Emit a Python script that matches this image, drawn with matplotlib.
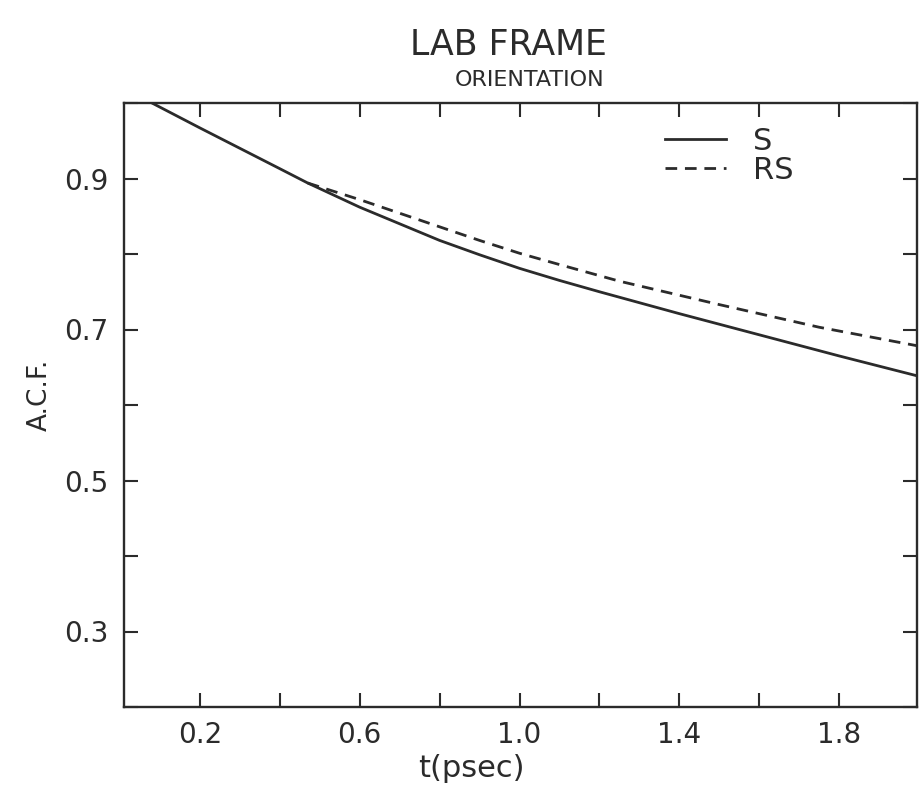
import matplotlib
matplotlib.use("Agg")
import matplotlib.pyplot as plt
from matplotlib.ticker import MultipleLocator

# values
t_s = [0.08, 0.2, 0.3, 0.4, 0.47, 0.6, 0.7, 0.8, 0.9, 1.0, 1.1, 1.2, 1.4, 1.6, 1.8, 2.0]
acf_s = [1.0, 0.967, 0.940, 0.913, 0.894, 0.862, 0.840, 0.818, 0.799, 0.781,
         0.765, 0.750, 0.721, 0.693, 0.665, 0.638]

t_rs = [0.47, 0.6, 0.7, 0.8, 0.9, 1.0, 1.1, 1.25, 1.5, 1.75, 2.0]
acf_rs = [0.894, 0.872, 0.854, 0.836, 0.818, 0.801, 0.786, 0.764, 0.733, 0.703, 0.678]

x_major = [0.2, 0.6, 1.0, 1.4, 1.8]
x_labels = ["0.2", "0.6", "1.0", "1.4", "1.8"]
y_major = [0.3, 0.5, 0.7, 0.9]
y_labels = ["0.3", "0.5", "0.7", "0.9"]

ink = "#2b2b2b"
plt.rcParams["font.family"] = "DejaVu Sans"

fig = plt.figure(figsize=(9.2, 7.85), dpi=100)
ax = fig.add_axes([124/920, 78/785, 793/920, 604/785])

ax.plot(t_s, acf_s, color=ink, lw=2.0, label="S")
ax.plot(t_rs, acf_rs, color=ink, lw=2.0, ls=(0, (4.2, 2.8)), label="RS")

ax.set_xlim(0.01, 1.995)
ax.set_ylim(0.2, 1.0)

ax.set_xticks(x_major)
ax.set_xticklabels(x_labels)
ax.xaxis.set_minor_locator(MultipleLocator(0.2))
ax.set_yticks(y_major)
ax.set_yticklabels(y_labels)
ax.yaxis.set_minor_locator(MultipleLocator(0.1))

ax.tick_params(which="both", direction="in", top=True, right=True,
               length=10, width=1.5, color=ink)
ax.tick_params(axis="y", which="major", labelsize=20, pad=11, labelcolor=ink)
ax.tick_params(axis="x", which="major", labelsize=20, pad=10, labelcolor=ink)

for sp in ax.spines.values():
    sp.set_linewidth(1.7)
    sp.set_color(ink)

ax.set_xlabel("t(psec)", fontsize=22, color=ink)
ax.xaxis.set_label_coords(0.4376, -0.077)
ax.set_ylabel("A.C.F.", fontsize=19, color=ink)
ax.yaxis.set_label_coords(-0.09, 0.517)

fig.text(508/920, 1 - 45/785, "LAB FRAME", fontsize=25, color=ink,
         ha="center", va="center")
fig.text(530/920, 1 - 80/785, "ORIENTATION", fontsize=16, color=ink,
         ha="center", va="center")

leg = ax.legend(loc="center left", bbox_to_anchor=(0.682, 0.912),
                frameon=False, fontsize=22, handlelength=2.0,
                handletextpad=0.9, labelspacing=0.0, borderpad=0,
                borderaxespad=0)
for txt in leg.get_texts():
    txt.set_color(ink)

fig.savefig("out.png", dpi=100)
